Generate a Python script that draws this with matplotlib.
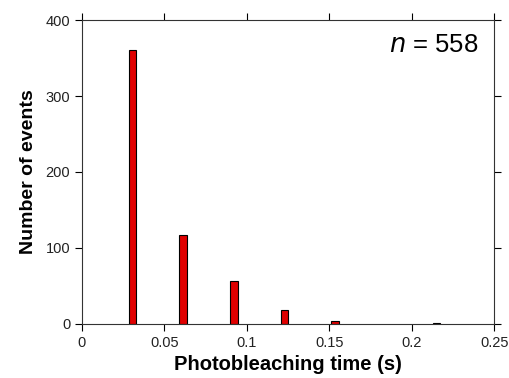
import numpy as np
import matplotlib
matplotlib.use("Agg")
import matplotlib.pyplot as plt

plt.rcParams['font.family'] = ['Liberation Sans', 'DejaVu Sans']

# bin centres (s) and counts
bin_centers = [0.0307, 0.0614, 0.0921, 0.1228, 0.1535, 0.2149]
counts = [361, 117, 56, 19, 4, 1]
n_total = 558

fig = plt.figure(figsize=(5.09, 3.78), dpi=100)
ax = fig.add_axes([0.161, 0.143, 0.810, 0.804])

ax.bar(bin_centers, counts, width=0.0045, color='#e00000',
       edgecolor='black', linewidth=0.8)

ax.set_xlim(0, 0.25)
ax.set_ylim(0, 400)
ax.set_xticks([0, 0.05, 0.1, 0.15, 0.2, 0.25])
ax.set_xticklabels(['0', '0.05', '0.1', '0.15', '0.2', '0.25'])
ax.set_yticks([0, 100, 200, 300, 400])

ax.tick_params(direction='out', length=5, width=0.8, labelsize=10.5,
               top=True, right=True, colors='black', labelcolor='#222222')
for s in ax.spines.values():
    s.set_linewidth(0.8)
    s.set_color('#333333')

ax.set_xlabel('Photobleaching time (s)', fontsize=14.5, fontweight='bold', labelpad=4)
ax.set_ylabel('Number of events', fontsize=14, fontweight='bold', labelpad=6)

ax.text(0.961, 0.918, r'$n$ = ' + str(n_total), transform=ax.transAxes,
        ha='right', va='center', fontsize=18.5)

fig.savefig('out.png', dpi=100)
